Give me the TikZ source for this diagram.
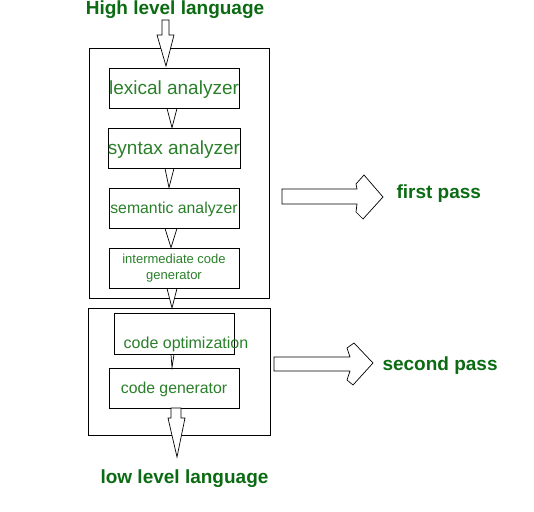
\documentclass[tikz,border=0pt]{standalone}
\usepackage{fontspec}
\setmainfont{Liberation Sans}
\definecolor{gbold}{HTML}{0B6B12}
\definecolor{gtext}{HTML}{2A7F2A}
\begin{document}
\begin{tikzpicture}[x=1pt,y=-1pt,
  stage/.style={draw,line width=0.8pt,minimum width=130pt,minimum height=40pt,inner sep=0pt,text=gtext},
  frame/.style={draw,line width=0.8pt},
  hollow/.style={draw,line width=0.7pt,fill=white},
  title/.style={text=gbold,font=\bfseries\fontsize{19}{21}\selectfont}]
\useasboundingbox (0,0) rectangle (534,511);
% frames
\draw[frame] (89,48) rectangle (269,298);
\draw[frame] (88,308) rectangle (270,435);
% stages
\node[stage,font=\fontsize{19}{21}\selectfont,text depth=1pt] (lex) at (174,88) {lexical analyzer};
\node[stage,font=\fontsize{19}{21}\selectfont,text depth=1pt] (syn) at (174,148) {syntax analyzer};
\node[stage,font=\fontsize{15.8}{18}\selectfont,text depth=1pt] (sem) at (174,208) {semantic analyzer};
\node[stage,font=\fontsize{13}{16}\selectfont,align=center] (inter) at (174,268) {intermediate code\\generator};
\node[stage,minimum width=120pt,minimum height=41pt] (opt) at (174,333.5) {};
\node[text=gtext,font=\fontsize{16}{18}\selectfont,inner sep=0pt] (optlabel) at (186,344) {code optimization};
\node[stage,font=\fontsize{15.8}{18}\selectfont,text depth=1pt] (gen) at (174,388) {code generator};
% titles
\node[title] (high) at (175,10) {High level language};
\node[title] (low) at (184.5,479) {low level language};
\node[title,anchor=west] (first) at (393,194) {first pass};
\node[title,anchor=west] (second) at (379,366) {second pass};
% top big arrow
\draw[hollow] (162,20) -- (169,20) -- (169,35) -- (174,35) -- (166,66) -- (157,35) -- (162,35) -- cycle;
% small arrows between stages
\draw[hollow] ([xshift=-7pt]lex.south) -- ([xshift=3pt]lex.south) -- ([xshift=-2pt]syn.north) -- cycle;
\draw[hollow] ([xshift=-9pt]syn.south) -- ([xshift=0pt]syn.south) -- ([xshift=-5pt]sem.north) -- cycle;
\draw[hollow] ([xshift=-9pt]sem.south) -- ([xshift=3pt]sem.south) -- ([xshift=-3pt]inter.north) -- cycle;
\draw[hollow] ([xshift=-7pt]inter.south) -- ([xshift=3pt]inter.south) -- (172,308) -- cycle;
\draw[hollow] ([xshift=-3pt]opt.south) -- ([xshift=0pt]opt.south) -- ([xshift=-2pt]gen.north) -- cycle;
% bottom big arrow
\draw[hollow] (171,408) -- (181,408) -- (181,418) -- (185,418) -- (177,457) -- (168,418) -- (171,418) -- cycle;
% right pass arrows
\draw[hollow] (282,189) -- (357,189) -- (356,184) -- (364,175) -- (383,197) -- (363,219) -- (356,212) -- (357,204) -- (282,204) -- cycle;
\draw[hollow] (274,357) -- (350,357) -- (347,348) -- (354,343) -- (373,363) -- (353,385) -- (347,380) -- (350,371) -- (274,371) -- cycle;
\end{tikzpicture}
\end{document}
